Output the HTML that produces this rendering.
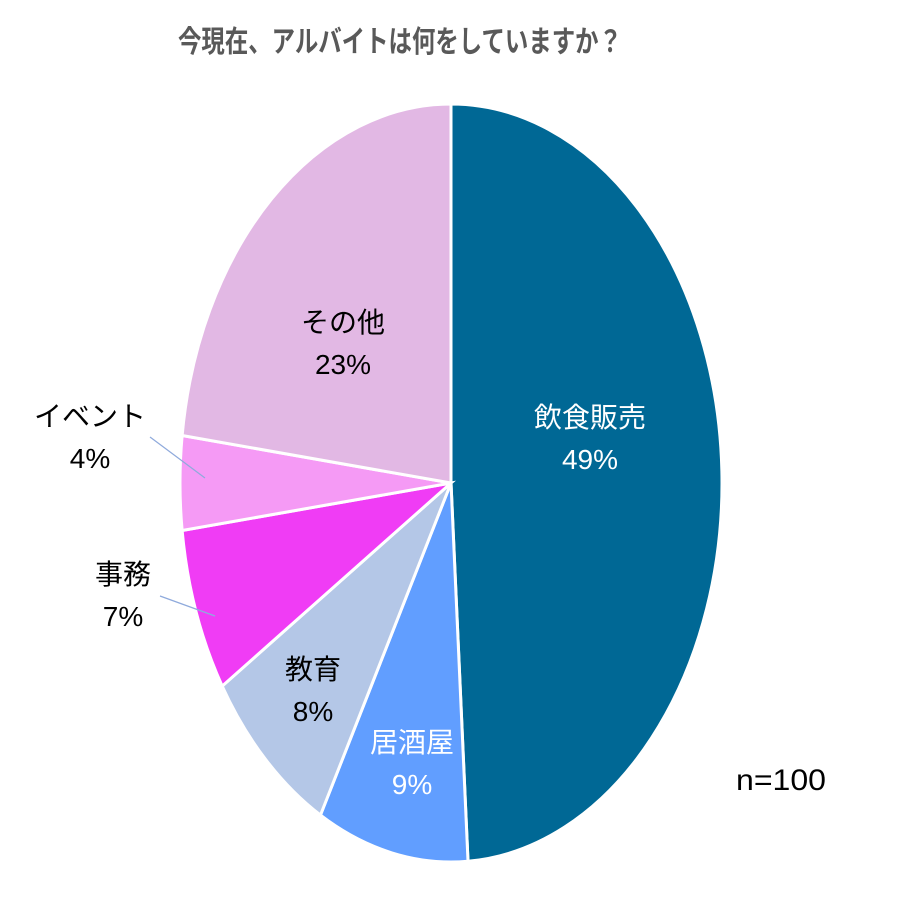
<!DOCTYPE html>
<html><head><meta charset="utf-8"><style>
html,body{margin:0;padding:0;background:#fff;}
svg{display:block;font-family:"Liberation Sans","Noto Sans CJK JP",sans-serif;}
</style></head><body>
<svg id="chart" width="919" height="919" viewBox="0 0 919 919">
<text x="400" y="52" text-anchor="middle" font-size="30" font-weight="bold" fill="#595959" textLength="444" lengthAdjust="spacingAndGlyphs">今現在、アルバイトは何をしていますか？</text>
<g id="slices"></g>
<g id="labels"></g>
<line x1="150" y1="437" x2="205" y2="478" stroke="#8FAADC" stroke-width="1.2"/>
<line x1="160" y1="596" x2="215" y2="616" stroke="#8FAADC" stroke-width="1.2"/>
<text x="781" y="790" text-anchor="middle" font-size="30" fill="#000" textLength="90" lengthAdjust="spacingAndGlyphs">n=100</text>
</svg>
<script>
const categories = ["飲食販売","居酒屋","教育","事務","イベント","その他"];
const values = [49,9,8,7,4,23];
const colors = ["#006895","#619EFF","#B4C7E7","#F03CF5","#F59AF5","#E2B8E4"];
const labelPos = [[590,415,"#fff"],[412,740,"#fff"],[313,667,"#000"],[123,572,"#000"],[90,414,"#000"],[343,320,"#000"]];
const cx=451, cy=483, rx=271, ry=379;
const ns="http://www.w3.org/2000/svg";
const total=values.reduce((a,b)=>a+b,0);
const sg=document.getElementById('slices'), lg=document.getElementById('labels');
let acc=0;
function pt(f){const a=f*2*Math.PI;return [cx+rx*Math.sin(a), cy-ry*Math.cos(a)];}
values.forEach((v,i)=>{
  const f0=acc/total, f1=(acc+v)/total; acc+=v;
  const p0=pt(f0), p1=pt(f1), large=(f1-f0)>0.5?1:0;
  const p=document.createElementNS(ns,'path');
  p.setAttribute('d',`M${cx},${cy} L${p0[0]},${p0[1]} A${rx},${ry} 0 ${large} 1 ${p1[0]},${p1[1]} Z`);
  p.setAttribute('fill',colors[i]);p.setAttribute('stroke','#fff');p.setAttribute('stroke-width','3');
  
  
  sg.appendChild(p);
  const lp=labelPos[i];
  [categories[i], v+'%'].forEach((s,k)=>{
    const t=document.createElementNS(ns,'text');
    t.setAttribute('x',lp[0]);t.setAttribute('y',lp[1]+k*42+12);
    t.setAttribute('text-anchor','middle');t.setAttribute('font-size','28');t.setAttribute('fill',lp[2]);
    t.textContent=s;
    
    
    lg.appendChild(t);
  });
});
</script>
</body></html>
